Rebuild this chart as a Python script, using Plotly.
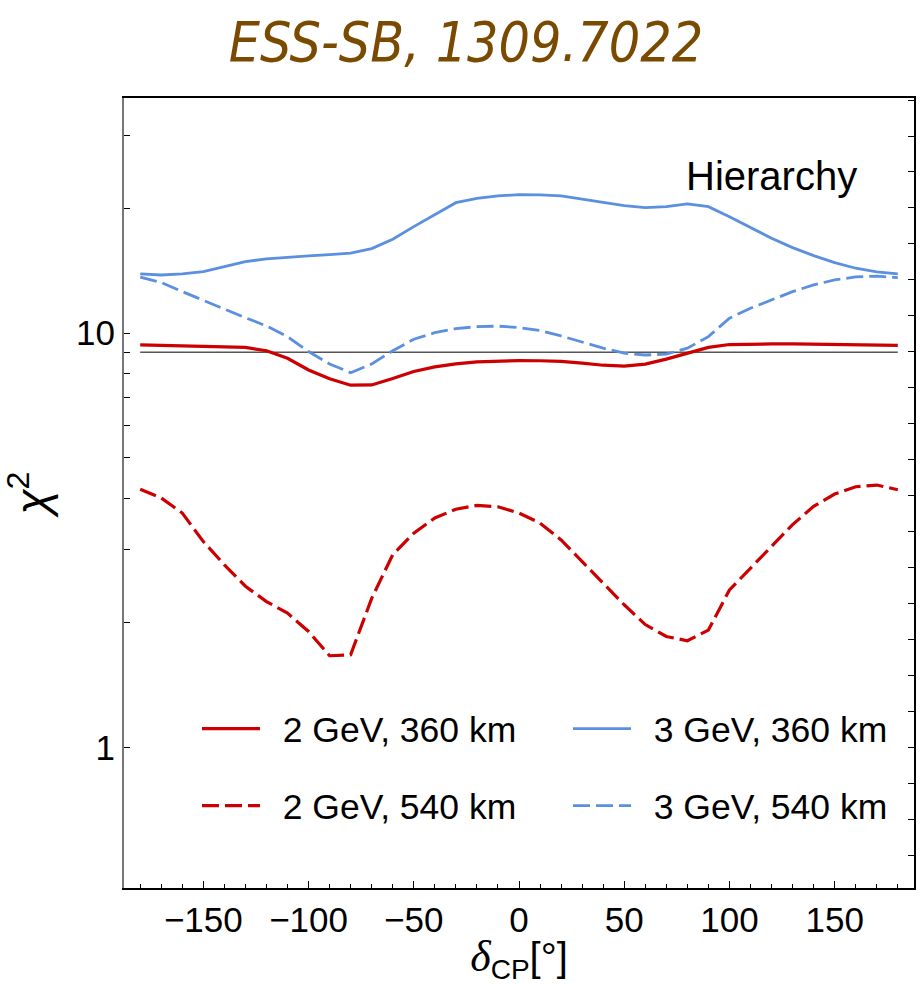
import plotly.graph_objects as go

delta = list(range(-180, 181, 10))

chi2_2gev_360 = [9.37, 9.35, 9.33, 9.32, 9.30, 9.24, 9.07, 8.70, 8.15, 7.76, 7.49, 7.50, 7.77, 8.08, 8.29, 8.43, 8.53, 8.56, 8.59,
                 8.58, 8.55, 8.47, 8.37, 8.33, 8.42, 8.66, 8.95, 9.24, 9.39, 9.42, 9.42, 9.42, 9.41, 9.41, 9.39, 9.37, 9.35]
chi2_2gev_540 = [4.20, 4.00, 3.68, 3.14, 2.76, 2.45, 2.25, 2.11, 1.905, 1.665, 1.674, 2.29, 2.92, 3.29, 3.58, 3.76, 3.84, 3.81, 3.68,
                 3.48, 3.17, 2.81, 2.49, 2.21, 1.98, 1.853, 1.81, 1.92, 2.40, 2.71, 3.05, 3.45, 3.82, 4.09, 4.26, 4.30, 4.19]
chi2_3gev_360 = [13.90, 13.82, 13.90, 14.08, 14.48, 14.89, 15.11, 15.26, 15.37, 15.48, 15.60, 16.00, 16.86, 18.08, 19.30, 20.66, 21.17, 21.45, 21.6,
                 21.57, 21.45, 21.09, 20.70, 20.32, 20.10, 20.21, 20.51, 20.21, 19.11, 17.98, 16.95, 16.09, 15.39, 14.80, 14.35, 14.06, 13.90]
chi2_3gev_540 = [13.65, 13.25, 12.60, 11.99, 11.43, 10.90, 10.41, 9.81, 9.03, 8.43, 8.03, 8.43, 9.07, 9.67, 10.03, 10.26, 10.37, 10.40, 10.32,
                 10.15, 9.85, 9.53, 9.20, 8.95, 8.86, 8.90, 9.20, 9.81, 10.87, 11.49, 12.03, 12.60, 13.08, 13.45, 13.67, 13.73, 13.62]

threshold_x = [-180, 180]
threshold_y = [9, 9]

labels = ["2 GeV, 360 km", "3 GeV, 360 km", "2 GeV, 540 km", "3 GeV, 540 km"]

RED = "#CC0000"
BLUE = "#5B8FE0"
FONT = "Liberation Sans, Arial, Helvetica, sans-serif"

fig = go.Figure()

fig.add_trace(go.Scatter(x=threshold_x, y=threshold_y, mode="lines",
                         line=dict(color="black", width=1), showlegend=False, hoverinfo="skip"))

series = [
    (labels[0], chi2_2gev_360, RED, "solid", 3.2, "legend"),
    (labels[1], chi2_3gev_360, BLUE, "solid", 2.8, "legend2"),
    (labels[2], chi2_2gev_540, RED, "17px,6px", 3.2, "legend3"),
    (labels[3], chi2_3gev_540, BLUE, "17px,6px", 2.8, "legend4"),
]
for name, ys, col, dash, w, lg in series:
    fig.add_trace(go.Scatter(x=delta, y=ys, mode="lines", name="\u2002" + name,
                             line=dict(color=col, width=w, dash=dash), legend=lg))

# empty trace to carry right-hand frame ticks
fig.add_trace(go.Scatter(x=[], y=[], yaxis="y2", showlegend=False, hoverinfo="skip"))

legfont = dict(family=FONT, size=35.5, color="black")
def leg(x, y):
    return dict(x=x, y=y, xanchor="left", yanchor="middle", xref="paper", yref="paper",
                font=legfont, bgcolor="rgba(0,0,0,0)", itemwidth=58, borderwidth=0)

W, H = 922, 985
L, R, T, B = 124, 8, 98, 97
pw, ph = W - L - R, H - T - B

def px2paper_x(px):
    return (px - L) / pw
def px2paper_y(py):
    return (H - B - py) / ph

fig.update_layout(
    width=W, height=H,
    margin=dict(l=L, r=R, t=T, b=B),
    paper_bgcolor="white", plot_bgcolor="white",
    font=dict(family=FONT, color="black"),
    title=dict(text="ESS-SB, 1309.7022", x=466 / W, xref="container", xanchor="center",
               y=1 - 42 / H, yref="container", yanchor="middle",
               font=dict(family="Liberation Sans Narrow, DejaVu Sans Condensed, Liberation Sans, sans-serif",
                         size=55, color="#7A4A00", style="italic")),
    xaxis=dict(range=[-187.7, 187.7], tickvals=[-150, -100, -50, 0, 50, 100, 150],
               ticks="inside", ticklen=7, tickwidth=1.2, tickcolor="black",
               minor=dict(dtick=10, tick0=0, ticks="inside", ticklen=4, tickwidth=1, tickcolor="black"),
               showline=True, linecolor="black", linewidth=1.5, mirror=True,
               showgrid=False, zeroline=False,
               tickfont=dict(family=FONT, size=35),
               title=dict(text="<span style='font-family:Liberation Serif;font-style:italic;font-size:44px'>δ</span>"
                               "<sub>CP</sub>[°]",
                          font=dict(family=FONT, size=40), standoff=6)),
    yaxis=dict(type="log", range=[-0.3393, 1.5678], tickvals=[1, 10], ticktext=["1", "10"],
               ticks="inside", ticklen=6, tickwidth=1.2, tickcolor="black",
               minor=dict(tickvals=[2, 3, 4, 5, 6, 7, 8, 9, 20, 30], ticks="inside", ticklen=6,
                          tickwidth=1, tickcolor="black"),
               showline=True, linecolor="#777777", linewidth=2, mirror=False,
               showgrid=False, zeroline=False,
               tickfont=dict(family=FONT, size=35),
               title=dict(text="<i>χ</i><sup>2</sup>", font=dict(family=FONT, size=46), standoff=22)),
    yaxis2=dict(overlaying="y", side="right", range=[-0.897, 21.056], tick0=0, dtick=1,
                ticks="inside", ticklen=6, tickwidth=1, tickcolor="black",
                showticklabels=False, showline=True, linecolor="black", linewidth=1.5,
                showgrid=False, zeroline=False),
    showlegend=True,
    legend=leg(px2paper_x(197), px2paper_y(729)),
    legend2=leg(px2paper_x(568), px2paper_y(729)),
    legend3=leg(px2paper_x(197), px2paper_y(806)),
    legend4=leg(px2paper_x(568), px2paper_y(806)),
    annotations=[dict(text="Hierarchy", x=px2paper_x(771.5), y=px2paper_y(176), xref="paper", yref="paper",
                      xanchor="center", yanchor="middle", showarrow=False,
                      font=dict(family=FONT, size=40, color="black"))],
)

fig.write_html("out.html")
